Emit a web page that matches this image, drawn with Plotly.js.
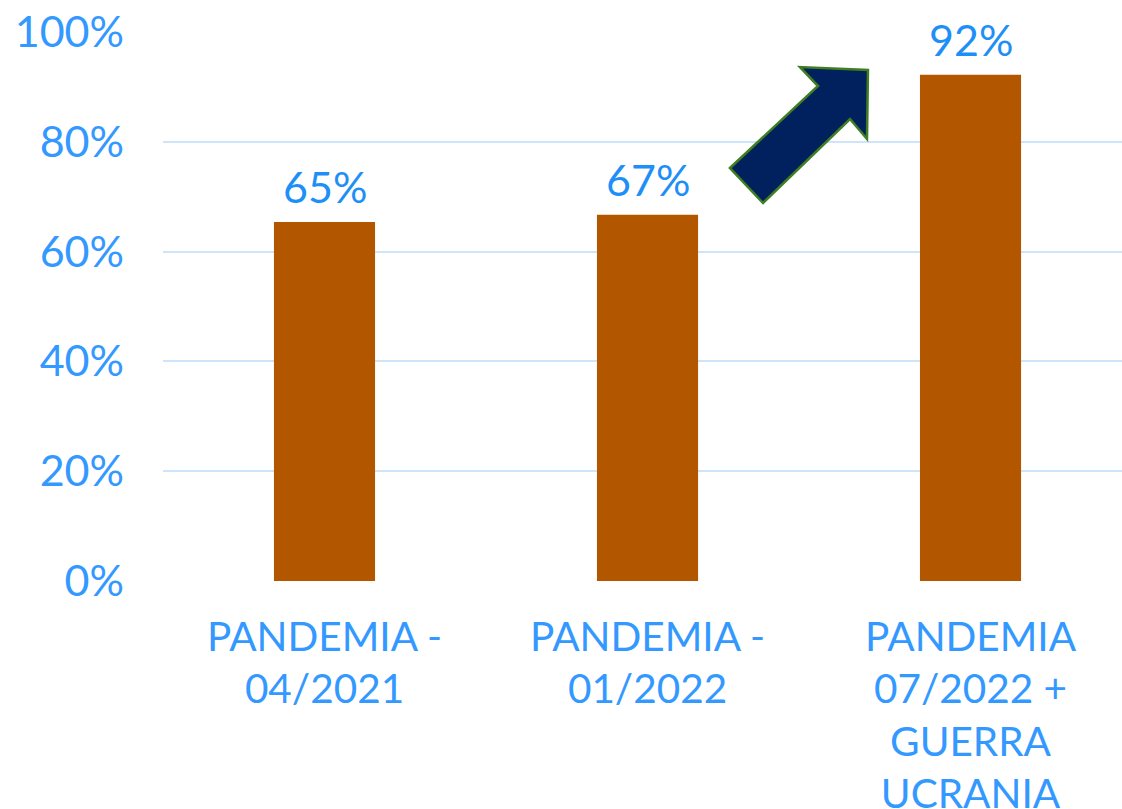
<!DOCTYPE html>
<html>
<head>
<meta charset="utf-8">
<script src="https://cdn.plot.ly/plotly-3.0.1.min.js"></script>
<style>html,body{margin:0;padding:0;background:#fff;}#chart{width:1122px;height:809px;}</style>
</head>
<body>
<div id="chart"></div>
<script>
var categories = ["PANDEMIA -<br>04/2021", "PANDEMIA -<br>01/2022", "PANDEMIA<br>07/2022 +<br>GUERRA<br>UCRANIA"];
var values = [65.4, 66.7, 92.2];
var labels = ["65%", "67%", "92%"];
var yTicks = [0, 20, 40, 60, 80, 100];
var yTickLabels = ["0%", "20%", "40%", "60%", "80%", "100%"];

var L = 163, T = 32, W = 959, H = 549;
function px(x) { return ((x - L) / W).toFixed(4); }
function py(y) { return ((T + H - y) / H).toFixed(4); }
var arrowPts = [[730,168],[818,86],[800,67],[868,70],[867,139],[850,119],[763,203]];
var path = arrowPts.map(function(p, i){ return (i ? 'L' : 'M') + px(p[0]) + ',' + py(p[1]); }).join(' ') + ' Z';

var xIdx = categories.map(function(_, i){ return i; });

var trace = {
  type: 'bar',
  x: xIdx,
  y: values,
  width: 0.313,
  marker: {color: '#B35600'},
  hoverinfo: 'none'
};

var annotations = xIdx.map(function(i){
  return {x: i, y: values[i], xref: 'x', yref: 'y', text: labels[i], showarrow: false,
    yanchor: 'bottom', yshift: 8, font: {family: 'Lato', size: 43, color: '#1E8FF6'}};
});

var layout = {
  width: 1122, height: 809,
  margin: {l: L, r: 1122 - L - W, t: T, b: 809 - T - H},
  paper_bgcolor: '#ffffff', plot_bgcolor: '#ffffff',
  showlegend: false,
  xaxis: {range: [-0.5, 2.469], tickvals: xIdx, ticktext: categories, showgrid: false, zeroline: false,
    showline: false, ticks: '', tickfont: {family: 'Lato', size: 40.5, color: '#3399FF'}, ticklabelstandoff: 28, fixedrange: true},
  yaxis: {range: [0, 100], tickvals: yTicks, ticktext: yTickLabels, showgrid: true, gridcolor: '#CDE4FA', gridwidth: 2,
    zeroline: false, showline: false, ticks: '', tickfont: {family: 'Lato', size: 43, color: '#3399FF'}, ticklabelstandoff: 38, fixedrange: true},
  annotations: annotations,
  shapes: [{type: 'path', xref: 'paper', yref: 'paper', path: path, fillcolor: '#00215E', line: {color: '#3F7F22', width: 2.5}, layer: 'above'}]
};

Plotly.newPlot('chart', [trace], layout, {displayModeBar: false, staticPlot: true});
</script>
</body>
</html>
